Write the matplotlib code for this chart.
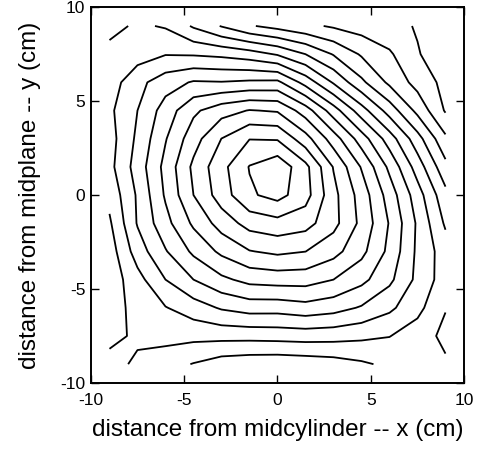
import numpy as np
import matplotlib
matplotlib.use("Agg")
import matplotlib.pyplot as plt

# grid of the measured field (cm), rows listed from top (y = 9) to bottom (y = -9)
x_cm = [-9, -7.5, -6, -4.5, -3, -1.5, 0, 1.5, 3, 4.5, 6, 7.5, 9]
y_cm = [9, 7.5, 6, 4.5, 3, 1.5, 0, -1.5, -3, -4.5, -6, -7.5, -9]

psi = [
    [5.7, 6.15, 5.91, 4.87, 3.94, 3.1, 2.66, 2.24, 1.87, 1.56, 1.25, 0.94, 0.6],
    [6.3, 6.55, 6.95, 6.9, 6.76, 6.46, 5.9, 5.0, 3.93, 2.88, 2.15, 1.05, 0.6],
    [6.5, 7.7, 8.55, 9.1, 9.05, 9.18, 9.23, 7.63, 5.89, 4.22, 2.79, 1.64, 0.7],
    [6.8, 8.0, 9.45, 10.8, 11.6, 12.05, 11.9, 10.5, 8.47, 6.44, 4.56, 2.72, 0.9],
    [6.6, 8.2, 9.93, 11.58, 13.01, 13.97, 13.91, 12.4, 10.5, 8.5, 6.5, 4.4, 2.2],
    [6.7, 8.44, 10.31, 12.22, 13.69, 15.05, 15.7, 14.3, 11.94, 9.92, 7.77, 5.54, 3.3],
    [6.3, 8.13, 10.13, 12.0, 13.5, 14.85, 15.35, 14.4, 12.3, 10.57, 8.55, 6.46, 4.3],
    [5.85, 8.08, 9.67, 11.18, 12.43, 13.38, 13.65, 13.38, 12.32, 10.74, 8.93, 6.85, 4.85],
    [5.5, 7.48, 8.92, 10.2, 11.22, 11.95, 12.21, 12.01, 11.35, 10.28, 8.74, 6.8, 5.5],
    [5.4, 6.64, 8.0, 9.0, 9.78, 10.31, 10.43, 10.42, 10.0, 9.29, 8.23, 6.75, 5.5],
    [5.4, 6.44, 6.95, 7.51, 8.11, 8.43, 8.41, 8.63, 8.39, 7.9, 7.21, 6.3, 5.05],
    [5.5, 6.3, 6.34, 6.29, 6.32, 6.33, 6.38, 6.44, 6.38, 6.22, 6.03, 5.5, 4.75],
    [6.6, 5.7, 5.4, 4.95, 4.5, 4.35, 4.3, 4.4, 4.55, 4.85, 5.2, 5.3, 5.15],
]

levels = np.arange(1, 16)
ticks = [-10, -5, 0, 5, 10]

plt.rcParams['font.family'] = ['Liberation Sans', 'DejaVu Sans']
plt.rcParams['axes.unicode_minus'] = False

fig = plt.figure(figsize=(4.78, 4.5), dpi=100)
ax = fig.add_axes([0.19, 0.149, 0.781, 0.835])

z = np.array(psi)[::-1]
ax.contour(x_cm, y_cm[::-1], z, levels=levels, colors='black', linewidths=1.3)

ax.set_xlim(-10, 10)
ax.set_ylim(-10, 10)
ax.set_xticks(ticks)
ax.set_yticks(ticks)
ax.tick_params(direction='in', top=True, right=True, length=6, width=1, labelsize=12.5)
ax.tick_params(axis='x', pad=7)
ax.tick_params(axis='y', pad=4)
for s in ax.spines.values():
    s.set_linewidth(1.4)

ax.set_xlabel('distance from midcylinder -- x (cm)', fontsize=17.5, labelpad=8)
ax.set_ylabel('distance from midplane -- y (cm)', fontsize=17.5, labelpad=14)

fig.savefig('out.png', dpi=100)
